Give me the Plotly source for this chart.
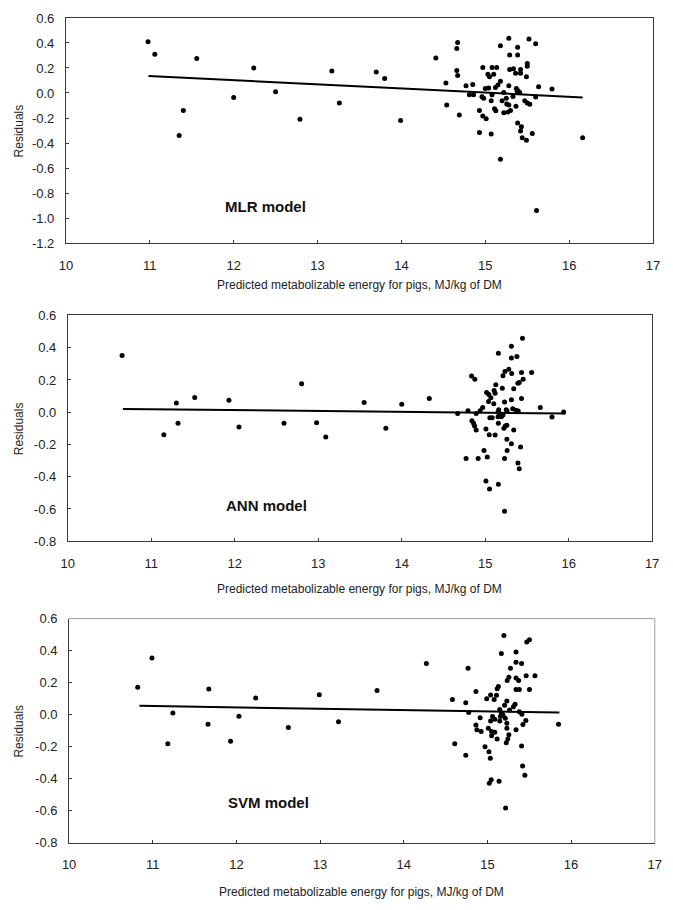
import plotly.graph_objects as go

# ---------------- data ----------------
x_tick_vals = [10, 11, 12, 13, 14, 15, 16, 17]
y_tick_vals_1 = [0.6, 0.4, 0.2, 0.0, -0.2, -0.4, -0.6, -0.8, -1.0, -1.2]
y_tick_text_1 = ["0.6", "0.4", "0.2", "0.0", "-0.2", "-0.4", "-0.6", "-0.8", "-1.0", "-1.2"]
y_tick_vals_2 = [0.6, 0.4, 0.2, 0.0, -0.2, -0.4, -0.6, -0.8]
y_tick_text_2 = ["0.6", "0.4", "0.2", "0.0", "-0.2", "-0.4", "-0.6", "-0.8"]
x_title = "Predicted metabolizable energy for pigs, MJ/kg of DM"
y_title = "Residuals"
panel_labels = ["MLR model", "ANN model", "SVM model"]

mlr_x = [10.98, 11.06, 11.56, 11.35, 11.40, 12.00, 12.24, 12.50, 12.79, 13.17, 13.26, 13.70, 13.80, 13.99, 14.41,
         14.53, 14.54, 14.67, 14.66, 14.66, 14.67, 14.69, 14.77, 14.85, 14.81, 14.86, 14.97, 14.93, 14.97, 15.01, 14.93, 15.07, 15.18,
         15.18, 15.28, 15.385, 15.52, 15.60, 15.29, 15.385, 15.08, 15.135, 15.03, 15.05, 15.10, 15.29, 15.335, 15.42, 15.36, 15.42, 15.50, 15.50, 15.49,
         15.18, 15.15, 15.12, 15.00, 15.04, 15.28, 15.37, 15.39, 15.41, 15.38, 15.635, 15.795, 15.22, 15.08, 14.96, 14.98, 15.07, 15.20, 15.25, 15.255, 15.28, 15.33, 15.365, 15.11, 15.125, 15.22, 15.27, 15.30, 15.47, 15.50, 15.53, 15.60, 15.385, 15.43, 15.42, 15.44, 15.49, 15.56, 16.16, 15.61]
mlr_y = [0.41, 0.31, 0.275, -0.34, -0.14, -0.035, 0.20, 0.01, -0.21, 0.175, -0.08, 0.167, 0.115, -0.22, 0.28,
         0.08, -0.095, 0.403, 0.356, 0.18, 0.14, -0.176, 0.057, 0.068, -0.013, -0.013, 0.204, -0.14, -0.184, -0.205, -0.315, -0.328, -0.53,
         0.377, 0.437, 0.366, 0.432, 0.393, 0.304, 0.304, 0.204, 0.204, 0.149, 0.13, 0.149, 0.188, 0.193, 0.188, 0.157, 0.157, 0.235, 0.214, 0.13,
         0.094, 0.063, 0.044, 0.036, 0.04, 0.057, 0.036, 0.018, 0.005, 0.013, 0.049, 0.031, 0.005, -0.013, -0.029, -0.042, -0.061, -0.061, -0.042, -0.087, -0.095, -0.027, -0.105, -0.126, -0.142, -0.158, -0.152, -0.139, -0.061, -0.079, -0.089, -0.032, -0.239, -0.27, -0.304, -0.357, -0.378, -0.323, -0.357, -0.94]
mlr_line_x = [10.985, 16.16]
mlr_line_y = [0.136, -0.035]

ann_x = [10.65, 11.15, 11.30, 11.32, 11.52, 11.93, 12.05, 12.59, 12.80, 12.98, 13.09, 13.55, 13.81, 14.00, 14.33, 14.67, 15.94, 15.80, 15.66,
         15.447, 15.314, 15.158, 15.314, 15.38, 15.283, 15.236, 15.318, 15.435, 15.556, 15.213, 14.837, 14.876, 15.455, 15.408, 15.392, 15.127, 15.017, 15.044, 15.068,
         15.107, 15.119, 15.205, 15.342, 15.04, 15.103, 15.232, 15.314, 15.435, 14.97, 14.794, 14.892, 14.939, 15.162, 15.154, 15.252, 15.263, 15.33, 15.369, 15.396,
         15.213, 15.193, 15.154, 15.173, 15.056, 15.084, 14.841, 14.861, 14.873, 14.892, 15.158, 15.24, 15.26, 15.224, 15.009, 15.342, 15.048, 15.119, 15.26, 15.314,
         15.424, 15.263, 14.986, 15.025, 14.916, 14.771, 15.232, 15.392, 15.408, 15.009, 15.052, 15.158, 15.232]
ann_y = [0.352, -0.140, 0.057, -0.069, 0.091, 0.075, -0.091, -0.069, 0.177, -0.065, -0.154, 0.061, -0.10, 0.049, 0.085, -0.008, 0.002, -0.029, 0.03,
         0.459, 0.409, 0.366, 0.337, 0.346, 0.266, 0.252, 0.24, 0.246, 0.246, 0.226, 0.224, 0.205, 0.205, 0.185, 0.179, 0.171, 0.122, 0.11, 0.089,
         0.134, 0.118, 0.148, 0.146, 0.067, 0.053, 0.063, 0.077, 0.085, 0.029, 0.009, -0.008, 0.009, 0.016, 0.002, 0.016, 0.008, 0.022, 0.012, 0.008,
         -0.018, -0.028, -0.028, -0.008, -0.035, -0.035, -0.053, -0.069, -0.085, -0.11, -0.069, -0.085, -0.081, -0.1, -0.104, -0.11, -0.14, -0.142, -0.167, -0.195,
         -0.215, -0.238, -0.238, -0.278, -0.287, -0.287, -0.287, -0.315, -0.35, -0.427, -0.476, -0.447, -0.614]
ann_line_x = [10.66, 15.96]
ann_line_y = [0.020, -0.008]

svm_x = [10.82, 10.99, 11.18, 11.24, 11.66, 11.67, 11.93, 12.03, 12.23, 12.62, 12.99, 13.22, 13.68, 14.27, 15.85,
         15.197, 15.470, 15.502, 15.166, 15.342, 14.769, 15.275, 15.342, 15.408, 15.236, 15.256, 15.342, 15.373, 15.463, 15.568, 15.116, 15.131, 15.342, 15.381, 15.502,
         14.862, 14.581, 14.991, 15.038, 15.08, 15.108, 14.741, 15.232, 15.205, 15.33, 15.31, 15.147, 15.166, 15.264, 15.381, 15.412, 14.776, 14.913, 15.061, 15.088,
         15.155, 15.186, 15.213, 15.038, 15.147, 15.459, 15.424, 14.862, 15.232, 15.01, 15.05, 14.874, 14.925, 15.232, 15.342, 15.088, 15.05, 15.256, 15.244, 15.116,
         15.225, 14.609, 15.408, 14.971, 15.018, 15.034, 14.741, 15.42, 15.447, 15.022, 15.045, 15.139, 15.217]
svm_y = [0.171, 0.354, -0.182, 0.01, -0.06, 0.161, -0.166, -0.01, 0.104, -0.08, 0.125, -0.044, 0.151, 0.319, -0.06,
         0.495, 0.454, 0.468, 0.382, 0.391, 0.290, 0.290, 0.327, 0.319, 0.213, 0.233, 0.229, 0.213, 0.243, 0.243, 0.162, 0.176, 0.157, 0.157, 0.157,
         0.145, 0.094, 0.1, 0.123, 0.094, 0.121, 0.074, 0.086, 0.059, 0.065, 0.049, 0.033, 0.012, 0.029, 0.018, 0.002, 0.014, -0.019, -0.012, -0.029,
         -0.012, -0.002, -0.023, -0.039, -0.039, -0.037, -0.062, -0.064, -0.053, -0.084, -0.105, -0.094, -0.105, -0.084, -0.094, -0.109, -0.131, -0.125, -0.152, -0.152,
         -0.176, -0.182, -0.195, -0.201, -0.231, -0.272, -0.254, -0.321, -0.379, -0.428, -0.407, -0.416, -0.583]
svm_line_x = [10.84, 15.86]
svm_line_y = [0.055, 0.014]

y_ranges = [[-1.2, 0.6], [-0.8, 0.6], [-0.8, 0.6]]
y_ticks = [(y_tick_vals_1, y_tick_text_1), (y_tick_vals_2, y_tick_text_2), (y_tick_vals_2, y_tick_text_2)]
label_pos = [(12.38, -0.91), (12.38, -0.58), (12.38, -0.55)]

# ---------------- figure ----------------
# The page body has an 8px margin, so the figure is drawn 8px in from the window edge.
OFF = 8
W, H = 673 - 2 * OFF, 910 - 2 * OFF
FONT = "Liberation Sans, Arial, Helvetica, sans-serif"
fig = go.Figure()

# pixel boxes in window coordinates: (left, right, top, bottom)
boxes = [(60, 660, 11, 240), (62, 659, 313.6, 543.2), (63.3, 661.7, 621.9, 849.9)]
xtitle_py = [283, 592, 900]

series = [(mlr_x, mlr_y, mlr_line_x, mlr_line_y),
          (ann_x, ann_y, ann_line_x, ann_line_y),
          (svm_x, svm_y, svm_line_x, svm_line_y)]


def px(v):
    return (v - OFF) / W


def py(v):
    return 1 - (v - OFF) / H


for i, (sx, sy, lx, ly) in enumerate(series):
    n = "" if i == 0 else str(i + 1)
    xa, ya = "x" + n, "y" + n
    fig.add_trace(go.Scatter(x=sx, y=sy, mode="markers", xaxis=xa, yaxis=ya,
                             marker=dict(color="black", size=5), showlegend=False))
    fig.add_trace(go.Scatter(x=lx, y=ly, mode="lines", xaxis=xa, yaxis=ya,
                             line=dict(color="black", width=2), showlegend=False))
    l, r, t, b = boxes[i]
    axis_line = "#3a3a3a"
    mirror = True if i < 2 else False
    fig.update_layout(**{
        "xaxis" + n: dict(domain=[px(l), px(r)], range=[10, 17], tickvals=x_tick_vals,
                          ticks="inside", ticklen=3, tickcolor=axis_line, showline=True,
                          linecolor=axis_line, linewidth=1, mirror=mirror, showgrid=False,
                          zeroline=False, anchor=ya, ticklabelstandoff=10,
                          ticklabeloverflow="allow",
                          tickfont=dict(family=FONT, size=13, color="#222")),
        "yaxis" + n: dict(domain=[py(b), py(t)], range=y_ranges[i],
                          tickvals=y_ticks[i][0], ticktext=y_ticks[i][1],
                          ticks="inside", ticklen=3, tickcolor=axis_line,
                          showline=True, linecolor=axis_line, linewidth=1, mirror=mirror,
                          showgrid=False, zeroline=False, anchor=xa, ticklabelstandoff=8,
                          ticklabeloverflow="allow",
                          tickfont=dict(family=FONT, size=13, color="#222")),
    })
    if not mirror:
        fig.add_shape(type="line", xref=xa + " domain", yref=ya + " domain",
                      x0=0, x1=1, y0=1, y1=1, line=dict(color="#9a9a9a", width=1))
        fig.add_shape(type="line", xref=xa + " domain", yref=ya + " domain",
                      x0=1, x1=1, y0=0, y1=1, line=dict(color="#9a9a9a", width=1))
    # axis titles
    fig.add_annotation(x=px((l + r) / 2), y=py(xtitle_py[i]), xref="paper", yref="paper",
                       text=x_title, showarrow=False, xanchor="center", yanchor="middle",
                       font=dict(family=FONT, size=12, color="#222"))
    fig.add_annotation(x=px(12), y=py((t + b) / 2), xref="paper", yref="paper",
                       text=y_title, showarrow=False, textangle=-90, xanchor="center",
                       yanchor="middle", font=dict(family=FONT, size=12, color="#222"))
    # model label
    fig.add_annotation(x=label_pos[i][0], y=label_pos[i][1], xref=xa, yref=ya,
                       text="<b>" + panel_labels[i] + "</b>", showarrow=False,
                       xanchor="center", yanchor="middle",
                       font=dict(family=FONT, size=15, color="#111"))

fig.update_layout(width=W, height=H, margin=dict(l=0, r=0, t=0, b=0),
                  paper_bgcolor="white", plot_bgcolor="white", showlegend=False)

fig.write_html("out.html")
